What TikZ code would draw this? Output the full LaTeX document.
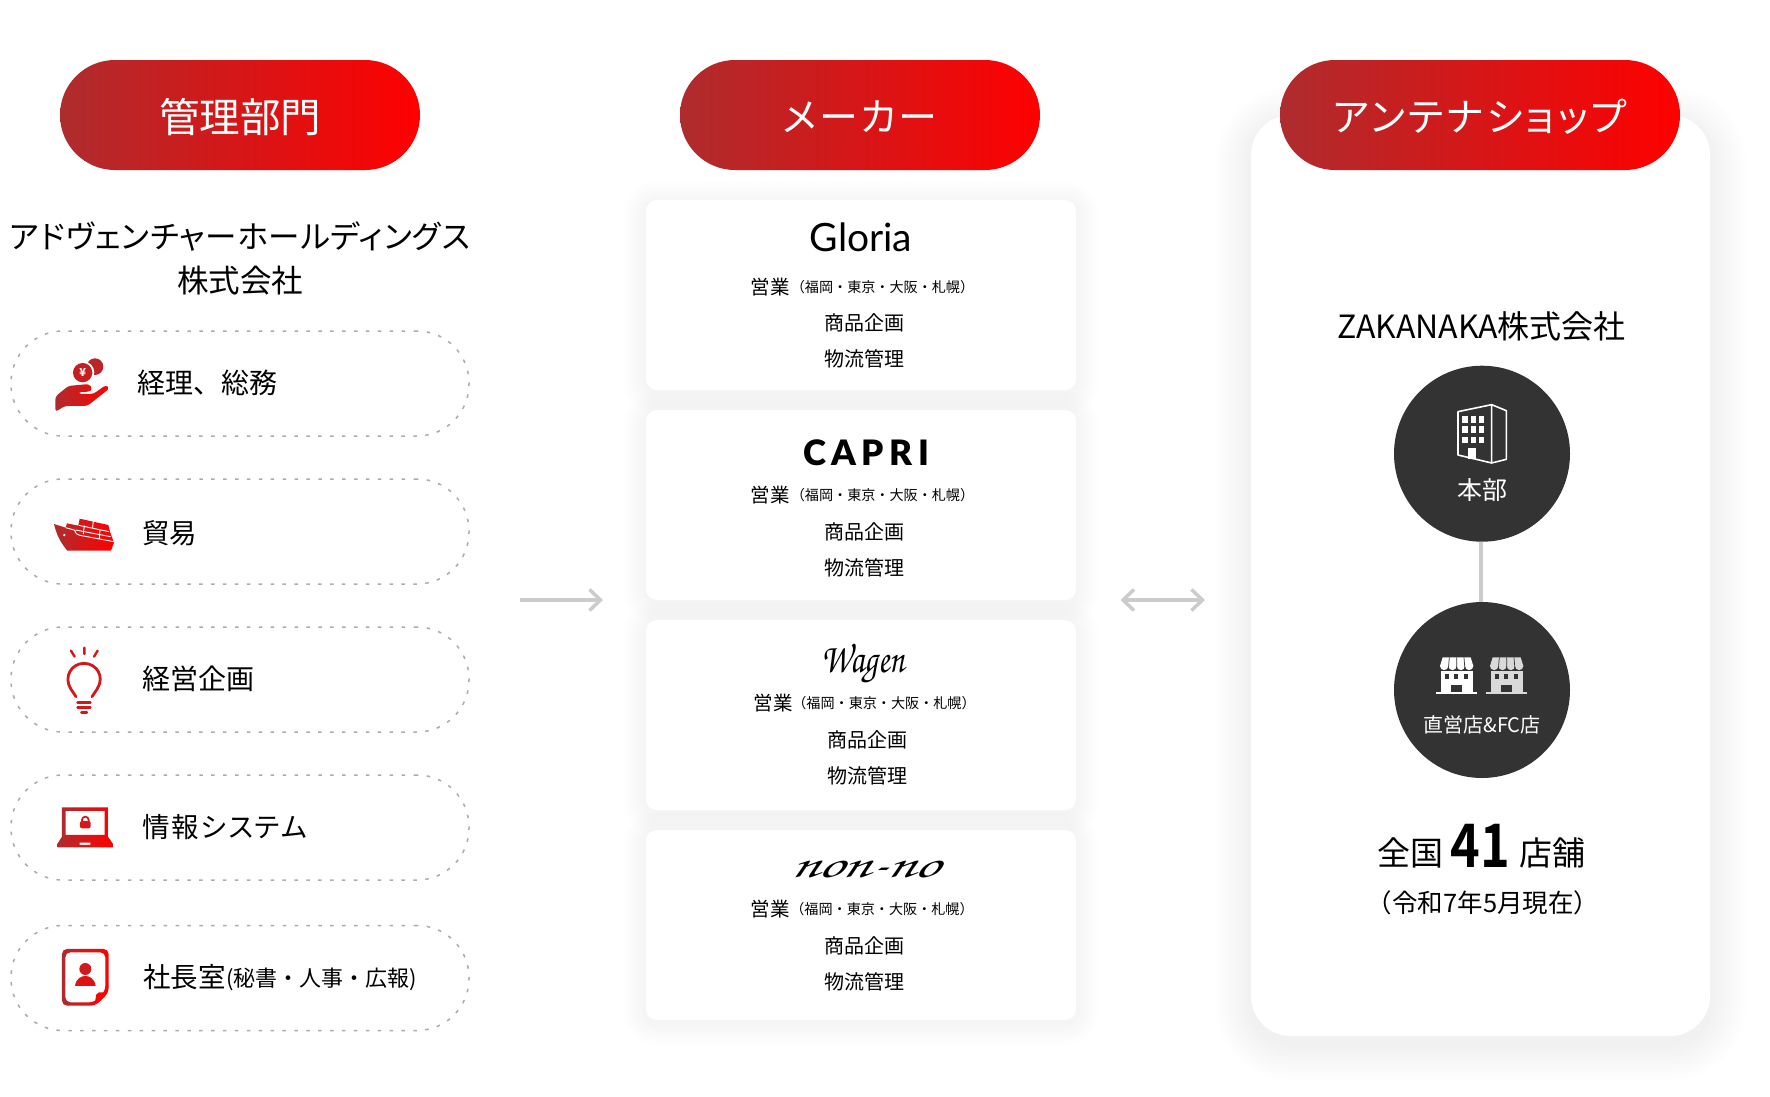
\documentclass[tikz,border=0pt]{standalone}
\usepackage{fontspec}
\usetikzlibrary{arrows.meta}
\setmainfont{Noto Sans CJK JP}
\newfontfamily\paltf{Noto Sans CJK JP}[RawFeature=+palt,LetterSpace=7.5]
\newfontfamily\paltm{Noto Sans CJK JP}[RawFeature=+palt,LetterSpace=6]
\newfontfamily\paltg{Noto Sans CJK JP}[RawFeature=+palt,LetterSpace=2.2]
\newfontfamily\paltk{Noto Sans CJK JP}[RawFeature=+palt,LetterSpace=7]
\newfontfamily\glof{Lato}
\newfontfamily\capf{Lato}[BoldFont={Lato Black},LetterSpace=15.5]
\newfontfamily\chor{TeX Gyre Chorus}[FakeStretch=0.8]
\newfontfamily\chorw{TeX Gyre Chorus}[FakeStretch=1.5,FakeSlant=0.3]
\newfontfamily\numf{Noto Sans CJK JP Bold}[FakeStretch=0.84]
\newcommand{\fsz}[1]{\fontsize{#1}{#1}\selectfont}
\newcommand{\pilltext}[2]{\raisebox{#1}[0pt][0pt]{#2}}
\definecolor{gradL}{HTML}{AE2C2E}
\definecolor{gradR}{HTML}{FF0000}
\definecolor{grayline}{HTML}{CCCCCC}
\definecolor{dashgray}{HTML}{ABABAB}
\definecolor{dark}{HTML}{333333}
\definecolor{iconred}{HTML}{D4171B}
\tikzset{
  redgrad/.style={left color=gradL,right color=gradR,draw=none},
  pill/.style={rounded corners=55pt,minimum height=110pt,left color=gradL,right color=gradR,draw=none,text=white,inner sep=0pt},
  rowbox/.style={draw=dashgray,line width=1.5pt,dash pattern=on 3.5pt off 8.4pt,rounded corners=52pt,minimum width=458pt,minimum height=105pt,inner sep=0pt},
  cardbox/.style={fill=white,rounded corners=11pt,minimum width=430pt,minimum height=190pt,inner sep=0pt},
  disc/.style={circle,fill=dark,minimum size=176pt,inner sep=0pt},
  lbl/.style={inner sep=0pt,anchor=center,text=black},
  wlbl/.style={inner sep=0pt,anchor=center,text=white},
  arrowline/.style={draw=grayline,line width=3.5pt},
}
% soft shadow: x1 y1 x2 y2 radius layers step offset opacity
\newcommand{\softshadow}[9]{%
  \foreach \k in {1,...,#6}{%
    \pgfmathsetmacro{\dd}{\k*#7}%
    \pgfmathsetmacro{\rr}{#5+\dd}%
    \fill[black,opacity=#9,rounded corners=\rr pt]
      (#1-\dd,#2-\dd+#8) rectangle (#3+\dd,#4+\dd+#8);
  }%
}
% card texts: prefix, cx of the centred lines, eigyo x, small x, y1 y2 y3
\newcommand{\cardtexts}[7]{%
  \node[lbl,font=\fsz{19.5}] (#1a) at (#3,#5) {営業};
  \node[lbl,font=\fsz{14.1}] (#1b) at (#4,#5) {（福岡・東京・大阪・札幌）};
  \node[lbl,font=\fsz{20}] (#1c) at (#2,#6) {商品企画};
  \node[lbl,font=\fsz{20}] (#1d) at (#2,#7) {物流管理};
}
% store icon in 3x zoom coordinates
\newcommand{\storeicon}[2]{%
  \begin{scope}[shift={(1250+#1/3,300)},x=.3333pt,y=-.3333pt]
    \fill[#2] (558,1176) rectangle (680,1182);
    \fill[#2] (572,1100) rectangle (668,1176);
    \fill[dark] (585,1122) rectangle (597,1136);
    \fill[dark] (613,1122) rectangle (625,1136);
    \fill[dark] (641,1122) rectangle (653,1136);
    \fill[dark] (604,1154) rectangle (635,1176);
    \fill[dark] (566,1098) rectangle (674,1113);
    \fill[#2] (578,1072) -- (662,1072) -- (670,1098) -- (570,1098) -- cycle;
    \foreach \q in {570,595,620,645}{
      \fill[#2] (\q,1098) arc[start angle=180,end angle=0,radius=12.5];
    }
    \draw[dark,line width=.7pt] (598,1072) -- (595,1110) (620,1072) -- (620,1110) (642,1072) -- (645,1110);
  \end{scope}%
}
\begin{document}
\begin{tikzpicture}[x=1pt,y=-1pt]
\useasboundingbox (0,0) rectangle (1770,1096);
\fill[white] (0,0) rectangle (1770,1096);

% shadows
\softshadow{1251}{115}{1710}{1036}{40}{14}{2.6}{8}{0.0032}
\softshadow{646}{200}{1076}{390}{11}{10}{2.2}{3}{0.0035}
\softshadow{646}{410}{1076}{600}{11}{10}{2.2}{3}{0.0035}
\softshadow{646}{620}{1076}{810}{11}{10}{2.2}{3}{0.0035}
\softshadow{646}{830}{1076}{1020}{11}{10}{2.2}{3}{0.0035}
\softshadow{60}{60}{420}{170}{55}{6}{2.5}{0}{0.0012}
\softshadow{680}{60}{1040}{170}{55}{6}{2.5}{0}{0.0012}

% right panel
\node[fill=white,rounded corners=40pt,minimum width=459pt,minimum height=921pt,inner sep=0pt] (panel) at (1480.5,575.5) {};

% pills
\node[pill,minimum width=360pt,font=\fsz{40.5}] (p1) at (240,115) {\pilltext{-17.4pt}{管理部門}};
\node[pill,minimum width=360pt,font=\fsz{39}] (p2) at (860,115) {\pilltext{-16.8pt}{\paltm メーカー}};
\node[pill,minimum width=400pt,font=\fsz{39}] (p3) at (1480,115) {\pilltext{-16.8pt}{\paltf アンテナショップ}};

% left column
\node[lbl,font=\paltg\fsz{31.5}] (t1) at (240,236) {アドヴェンチャーホールディングス};
\node[lbl,font=\fsz{31.5}] (t2) at (240,281) {株式会社};

\node[rowbox] (r1) at (240,383.5) {};
\node[rowbox] (r2) at (240,531.5) {};
\node[rowbox] (r3) at (240,679.5) {};
\node[rowbox] (r4) at (240,827.5) {};
\node[rowbox] (r5) at (240,978) {};

\node[lbl,anchor=west,font=\fsz{28}] (l1) at (137,383) {経理、総務};
\node[lbl,anchor=west,font=\fsz{27.5}] (l2) at (142,533) {貿易};
\node[lbl,anchor=west,font=\fsz{28}] (l3) at (142,679) {経営企画};
\node[lbl,anchor=west,font=\paltk\fsz{27.5}] (l4) at (142,827) {情報システム};
\node[lbl,anchor=west,font=\fsz{27.5}] (l5) at (143,977) {社長室};
\node[lbl,anchor=west,font=\fsz{22}] (l5b) at (226,979) {(秘書・人事・広報)};

% icon: hand with coins
\begin{scope}[shift={(0,0)},x=.3333pt,y=-.3333pt]
  \fill[gradL!85!red] (285,1100) circle[radius=25];
  \fill[white] (248,1118) circle[radius=35];
  \fill[gradL!70!red] (248,1118) circle[radius=29];
  \path[redgrad,rounded corners=3pt] (166,1236) -- (166,1190) -- (205,1158) -- (268,1152) -- (278,1168) -- (265,1176) -- (235,1176) -- (235,1182) -- (280,1182) -- (318,1155) -- (329,1165) -- (262,1218) -- (195,1218) -- cycle;
\end{scope}
\node[wlbl,font=\bfseries\fsz{11}] (yen) at (82.7,372.7) {¥};

% icon: ship
\begin{scope}[shift={(45,510)},x=.3333pt,y=-.3333pt]
  \path[redgrad] (27,42) -- (62,53) -- (66,40) -- (100,47) -- (104,26) -- (190,45) -- (196,68) -- (207,98) -- (198,122) -- (67,122) .. controls (45,95) and (35,75) .. (27,42) -- cycle;
  \fill[white] (58,75) circle[radius=4];
  \draw[white,line width=.9pt]
    (62,53) -- (88,60) .. controls (90,70) and (95,74) .. (110,77) -- (207,95)
    (102,46) -- (192,65)
    (92,60) -- (197,80)
    (145,33) -- (143,52)
    (118,47) -- (115,72)
    (165,60) -- (163,85);
\end{scope}

% icon: bulb
\begin{scope}[shift={(0,620)},x=.3333pt,y=-.3333pt,line cap=round]
  \draw[iconred,line width=2.8pt] (228,230) -- (212,206) .. controls (190,170) and (215,130) .. (252,130) .. controls (290,130) and (315,170) .. (292,206) -- (276,230);
  \draw[iconred,line width=2.8pt] (233,247) -- (271,247) (233,263) -- (271,263);
  \draw[iconred,line width=2.4pt] (244,278) -- (261,278);
  \draw[iconred,line width=2.4pt] (253,83) -- (253,102) (213,92) -- (224,110) (293,92) -- (282,110);
\end{scope}

% icon: laptop
\begin{scope}[shift={(0,620)},x=.3333pt,y=-.3333pt]
  \path[redgrad,even odd rule]
    (186,562) -- (324,562) -- (324,650) -- (339,672) -- (339,682) -- (172,682) -- (172,672) -- (186,650) -- cycle
    (197,573) -- (314,573) -- (314,645) -- (197,645) -- cycle
    (239,668) -- (271,668) -- (271,675) -- (239,675) -- cycle;
  \fill[iconred,rounded corners=2pt] (240,603) rectangle (272,625);
  \draw[iconred,line width=1.7pt] (246,604) -- (246,600) arc[start angle=180,end angle=360,radius=10] -- (266,604);
\end{scope}

% icon: person document
\begin{scope}[shift={(0,620)},x=.3333pt,y=-.3333pt]
  \path[redgrad,even odd rule,rounded corners=5pt]
    (186,987) -- (326,987) -- (326,1118) -- (287,1157) -- (186,1157) -- cycle
    (196,997) -- (316,997) -- (316,1113) -- (283,1147) -- (196,1147) -- cycle;
  \fill[gradR,rounded corners=2pt] (326,1116) -- (290,1118) -- (284,1152) -- cycle;
  \fill[gradL!60!red] (256,1047) circle[radius=18];
  \fill[gradL!40!red] (225,1098) .. controls (228,1075) and (245,1068) .. (256,1068) .. controls (267,1068) and (284,1075) .. (287,1098) -- cycle;
\end{scope}

% arrows
\coordinate (a1s) at (520,600);
\coordinate (a1e) at (603,600);
\coordinate (a2s) at (1120.5,600);
\coordinate (a2e) at (1205,600);
\draw[arrowline,-{Straight Barb[length=11pt,width=21pt]}] (a1s) -- (a1e);
\draw[arrowline,{Straight Barb[length=11pt,width=21pt]}-{Straight Barb[length=11pt,width=21pt]}] (a2s) -- (a2e);

% cards
\node[cardbox] (c1) at (861,295) {};
\node[cardbox] (c2) at (861,505) {};
\node[cardbox] (c3) at (861,715) {};
\node[cardbox] (c4) at (861,925) {};

\node[lbl,font=\glof\fsz{39}] (gloria) at (861,237) {Gloria};
\node[lbl,font=\capf\bfseries\fsz{35}] (capri) at (866,453) {CAPRI};
\node[lbl,font=\chor\fsz{42}] (wagen) at (863,663) {Wagen};
\node[lbl,font=\chorw\fsz{40}] (nonno) at (864,870) {non-no};

\cardtexts{ca}{864}{770}{882.5}{287}{323}{359}
\cardtexts{cb}{864}{770}{882.5}{495}{532}{568}
\cardtexts{cc}{867}{773}{884}{703}{740}{776}
\cardtexts{cd}{864}{770}{882}{909}{946}{982}

% right column
\node[lbl,font=\fsz{32}] (zak) at (1481.5,326) {ZAKANAKA株式会社};
\node[disc] (hq) at (1482,453.7) {};
\node[disc] (shop) at (1482,690) {};
\draw[grayline,line width=3.3pt] ([xshift=-1pt]hq.south) -- ([xshift=-1pt]shop.north);

% building
\begin{scope}[shift={(1250,300)},x=.3333pt,y=-.3333pt]
  \draw[white,line width=1.6pt,line join=round] (624,335) -- (725,314) -- (769,332) -- (769,478) -- (725,489) -- (624,465) -- cycle (725,314) -- (725,489);
  \foreach \a in {637,662,687}{\foreach \b in {348,378,410}{\fill[white] (\a,\b) rectangle ++(16,20);}}
  \fill[white] (655,445) rectangle (678,477);
\end{scope}
\node[wlbl,font=\fsz{25}] (hqt) at (1482,490) {本部};

\storeicon{0}{white}
\storeicon{150}{white!85!black}
\node[wlbl,font=\fsz{20}] (shopt) at (1482,725) {直営店\&FC店};

\node[lbl,font=\fsz{33}] (z1) at (1410,853) {全国};
\node[lbl,font=\numf\fsz{60}] (z2) at (1480,846) {41};
\node[lbl,font=\fsz{33}] (z3) at (1552,853) {店舗};
\node[lbl,font=\fsz{25.5}] (z4) at (1483,903) {（令和7年5月現在）};
\end{tikzpicture}
\end{document}
